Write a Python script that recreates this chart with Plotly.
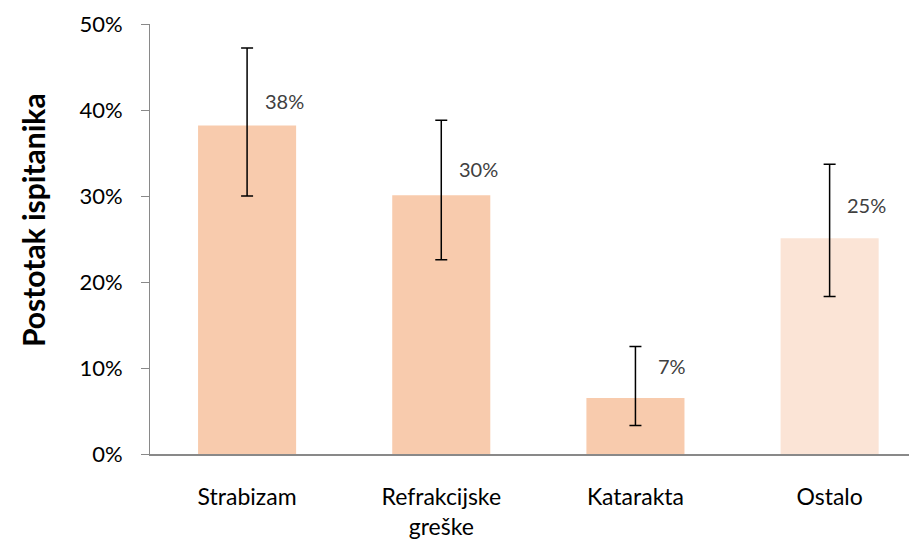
import plotly.graph_objects as go

categories = ["Strabizam", "Refrakcijske<br>greške", "Katarakta", "Ostalo"]
values = [38.2, 30.1, 6.5, 25.1]
err_plus = [9.0, 8.7, 6.0, 8.6]
err_minus = [8.2, 7.5, 3.2, 6.8]
labels = ["38%", "30%", "7%", "25%"]

bar_colors = ["#F8CBAD", "#F8CBAD", "#F8CBAD", "#FBE4D6"]
label_yshift = [24, 26, 32, 33]

fig = go.Figure(
    go.Bar(
        x=list(range(len(categories))),
        y=values,
        width=0.505,
        marker=dict(color=bar_colors, line=dict(width=0)),
        error_y=dict(
            type="data",
            symmetric=False,
            array=err_plus,
            arrayminus=err_minus,
            color="#000000",
            thickness=1.5,
            width=6,
        ),
        hoverinfo="skip",
    )
)

for i, (v, t) in enumerate(zip(values, labels)):
    fig.add_annotation(
        x=i, y=v, text=t, showarrow=False,
        xshift=37, yshift=label_yshift[i],
        font=dict(size=20, color="#404040"),
    )

# y title as a rotated annotation so it can sit a bit above centre, like the original
fig.add_annotation(
    text="<b>Postotak ispitanika</b>", textangle=-90, showarrow=False,
    xref="paper", yref="paper", x=0, y=0.5, xanchor="center", yanchor="middle",
    xshift=-117, yshift=19,
    font=dict(size=30),
)

# page body has an 8px margin, so the figure is offset by 8px
fig.update_layout(
    width=909,
    height=543,
    margin=dict(l=142, r=0, t=16, b=97),
    plot_bgcolor="white",
    paper_bgcolor="white",
    font=dict(family="Lato, Open Sans, sans-serif", color="#000000"),
    showlegend=False,
    xaxis=dict(
        tickmode="array",
        tickvals=list(range(len(categories))),
        ticktext=categories,
        range=[-0.5, 3.45],
        showline=True,
        linecolor="#898989",
        linewidth=1.5,
        ticks="",
        ticklabelstandoff=22,
        tickfont=dict(size=23),
        showgrid=False,
        zeroline=False,
    ),
    yaxis=dict(
        range=[0, 50],
        tickvals=[0, 10, 20, 30, 40, 50],
        ticktext=["0%", "10%", "20%", "30%", "40%", "50%"],
        showline=True,
        linecolor="#898989",
        linewidth=1,
        ticks="outside",
        ticklen=8,
        tickcolor="#898989",
        ticklabelstandoff=14,
        tickfont=dict(size=22),
        showgrid=False,
        zeroline=False,
    ),
)

fig.write_html("out.html")
